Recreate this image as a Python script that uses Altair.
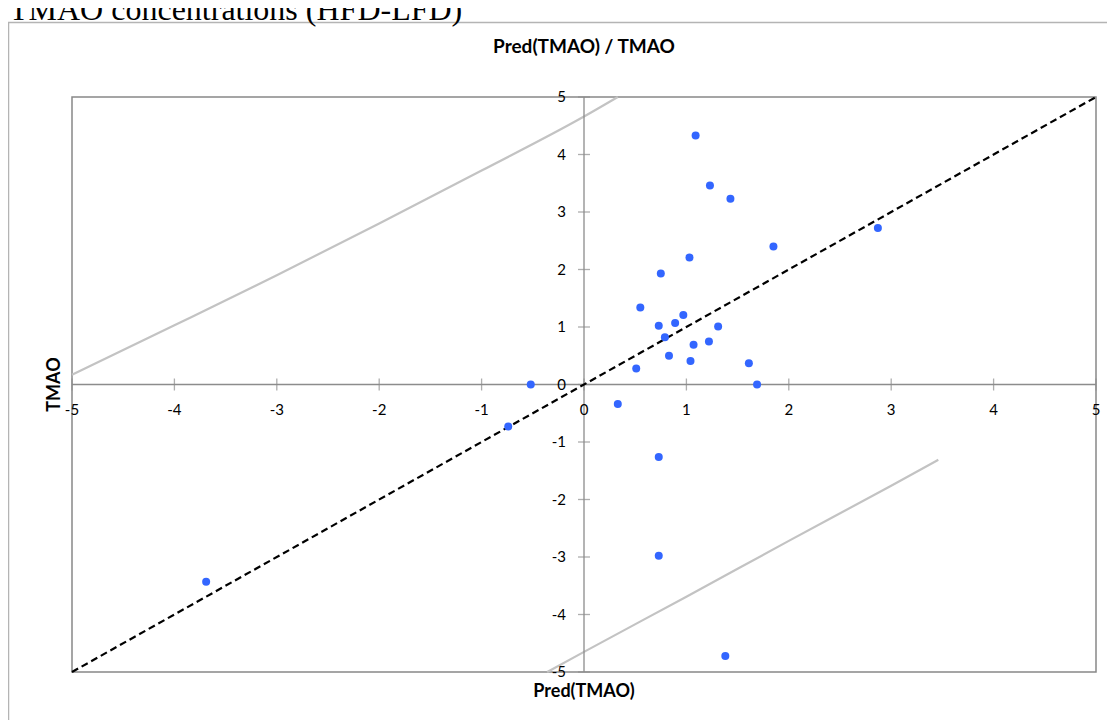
import altair as alt
import pandas as pd

# ---- data ----
pred = [1.09, 1.23, 1.43, 2.87, 1.85, 1.03, 0.75, 0.55, 0.97, 0.89, 0.73, 1.31, 0.79, 1.22,
        1.07, 0.83, 1.04, 0.51, 1.61, 1.69, 0.33, -0.52, -0.74, 0.73, 0.73, 1.38, -3.69]
tmao = [4.33, 3.46, 3.23, 2.72, 2.40, 2.21, 1.93, 1.34, 1.21, 1.07, 1.02, 1.01, 0.82, 0.75,
        0.69, 0.50, 0.41, 0.28, 0.37, 0.00, -0.34, 0.00, -0.73, -1.26, -2.98, -4.72, -3.43]

upper_x = [-5, -4, -3, -2, -1, 0, 0.33]
upper_y = [0.17, 1.03, 1.90, 2.80, 3.72, 4.66, 5.0]
lower_x = [-0.36, 0, 1, 2, 3, 3.46]
lower_y = [-5.0, -4.65, -3.69, -2.72, -1.76, -1.31]

diag_x = [-5, 5]
diag_y = [-5, 5]

ticks = [-5, -4, -3, -2, -1, 0, 1, 2, 3, 4, 5]
tick_labels = ["-5", "-4", "-3", "-2", "-1", "0", "1", "2", "3", "4", "5"]

outer_title = "TMAO concentrations (HFD-LFD)"
chart_title = "Pred(TMAO) / TMAO"
x_title = "Pred(TMAO)"
y_title = "TMAO"

W, H = 1024, 575
FONT = "Lato"
AXIS_GRAY = "#8c8c8c"

pts = pd.DataFrame({"x": pred, "y": tmao})
ci = pd.concat([
    pd.DataFrame({"x": upper_x, "y": upper_y, "band": "upper", "o": range(len(upper_x))}),
    pd.DataFrame({"x": lower_x, "y": lower_y, "band": "lower", "o": range(len(lower_x))}),
])
diag = pd.DataFrame({"x": diag_x, "y": diag_y})
tk = pd.DataFrame({"t": ticks, "lab": tick_labels, "z": [0] * len(ticks)})
axes_df = pd.DataFrame({"x": [-5, 0], "x2": [5, 0], "y": [0, -5], "y2": [0, 5]})

xs = alt.Scale(domain=[-5, 5], nice=False, zero=False)
ys = alt.Scale(domain=[-5, 5], nice=False, zero=False)

# outer frame (decorative)
frame = alt.Chart(pd.DataFrame({"k": ["frame"]})).mark_rect(
    fillOpacity=0, stroke="#b4b4b4", strokeWidth=1.5
).encode(
    x=alt.value(-63.5), x2=alt.value(W + 200), y=alt.value(-74.5), y2=alt.value(H + 200),
    detail="k:N",
)

ci_lines = alt.Chart(ci).mark_line(color="#c3c3c3", strokeWidth=2.2, interpolate="monotone").encode(
    x=alt.X("x:Q", scale=xs, axis=None),
    y=alt.Y("y:Q", scale=ys, axis=None),
    detail="band:N",
    order="o:Q",
)

axis_lines = alt.Chart(axes_df).mark_rule(color=AXIS_GRAY, strokeWidth=1.3).encode(
    x=alt.X("x:Q", scale=xs, axis=None), x2="x2:Q",
    y=alt.Y("y:Q", scale=ys, axis=None), y2="y2:Q",
)

x_ticks = alt.Chart(tk).mark_tick(orient="vertical", size=12, thickness=1.3, color=AXIS_GRAY).encode(
    x=alt.X("t:Q", scale=xs, axis=None), y=alt.Y("z:Q", scale=ys, axis=None)
)
y_ticks = alt.Chart(tk).mark_tick(orient="horizontal", size=12, thickness=1.3, color=AXIS_GRAY).encode(
    y=alt.Y("t:Q", scale=ys, axis=None), x=alt.X("z:Q", scale=xs, axis=None)
)

x_labels = alt.Chart(tk).mark_text(font=FONT, fontSize=15, color="#000", dy=25, baseline="middle", align="center").encode(
    x=alt.X("t:Q", scale=xs, axis=None), y=alt.Y("z:Q", scale=ys, axis=None), text="lab:N"
)
y_labels = alt.Chart(tk).mark_text(font=FONT, fontSize=15, color="#000", dx=-18, baseline="middle", align="right").encode(
    y=alt.Y("t:Q", scale=ys, axis=None), x=alt.X("z:Q", scale=xs, axis=None), text="lab:N"
)

diag_line = alt.Chart(diag).mark_line(color="#000", strokeWidth=2.2, strokeDash=[7, 4]).encode(
    x=alt.X("x:Q", scale=xs, axis=None), y=alt.Y("y:Q", scale=ys, axis=None)
)

points = alt.Chart(pts).mark_circle(color="#3366ff", opacity=1, size=64).encode(
    x=alt.X("x:Q", scale=xs, axis=None), y=alt.Y("y:Q", scale=ys, axis=None)
)


def label(txt, px, py, **kw):
    return alt.Chart(pd.DataFrame({"label": [txt]})).mark_text(color="#000", **kw).encode(
        x=alt.value(px), y=alt.value(py), text="label:N"
    )


t_outer = label(outer_title, -63, -77, font="Liberation Serif", fontSize=32, align="left",
                baseline="alphabetic")
t_chart = label(chart_title, W / 2, -50, font=FONT, fontSize=19, fontWeight="bold",
                align="center", baseline="middle")
t_x = label(x_title, W / 2, 595, font=FONT, fontSize=18, fontWeight="bold",
            align="center", baseline="middle")
t_y = label(y_title, -17, H / 2, font=FONT, fontSize=18, fontWeight="bold",
            align="center", baseline="middle", angle=270)

chart = alt.layer(
    frame, ci_lines, axis_lines, x_ticks, y_ticks, diag_line, points,
    x_labels, y_labels, t_outer, t_chart, t_x, t_y
).properties(
    width=W, height=H,
    padding={"left": 64, "top": 89, "right": 11, "bottom": 48},
    autosize=alt.AutoSizeParams(type="none"),
).configure_view(stroke="#888888", strokeWidth=1.5)

chart.save("out.html", embed_options={"renderer": "svg", "actions": False})
